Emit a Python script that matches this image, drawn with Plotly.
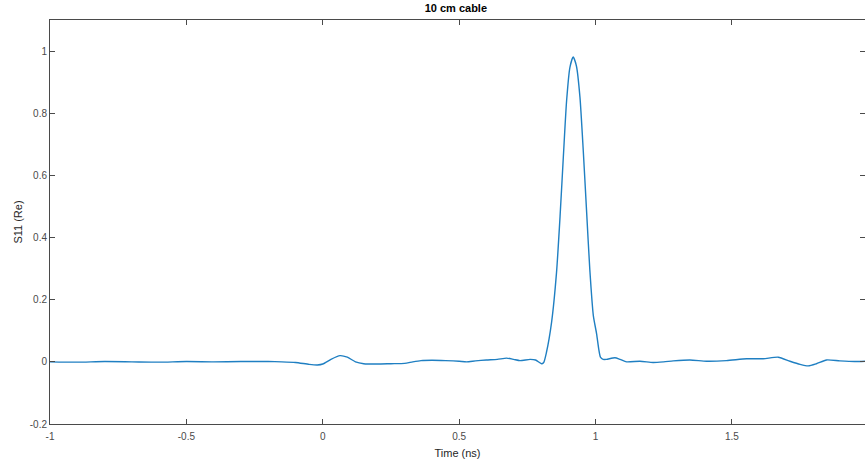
import plotly.graph_objects as go

time_ns = [-1.0, -0.9, -0.8, -0.7, -0.6, -0.5, -0.4, -0.3, -0.2, -0.15,
           -0.1, -0.05, -0.02, 0.0, 0.03, 0.063, 0.09, 0.12, 0.15, 0.2,
           0.25, 0.3, 0.33, 0.36, 0.4, 0.45, 0.5, 0.527, 0.56, 0.6,
           0.64, 0.674, 0.7, 0.723, 0.76, 0.78, 0.802, 0.81, 0.82, 0.839,
           0.857, 0.87, 0.882, 0.894, 0.906, 0.918, 0.93, 0.943, 0.955, 0.967,
           0.979, 0.992, 1.004, 1.012, 1.018, 1.028, 1.04, 1.071, 1.09, 1.114,
           1.163, 1.211, 1.25, 1.285, 1.346, 1.407, 1.48, 1.554, 1.615, 1.67,
           1.713, 1.75, 1.78, 1.81, 1.847, 1.896, 1.95, 1.988]
s11_re = [0.0, -0.001, 0.001, 0.0, -0.001, 0.001, 0.0, 0.001, 0.001, 0.0,
          -0.002, -0.008, -0.01, -0.007, 0.008, 0.02, 0.015, 0.0, -0.006, -0.007,
          -0.006, -0.005, 0.0, 0.004, 0.005, 0.004, 0.002, 0.0, 0.003, 0.006,
          0.008, 0.012, 0.008, 0.004, 0.008, 0.006, -0.006, -0.002, 0.03, 0.128,
          0.287, 0.468, 0.659, 0.84, 0.947, 0.981, 0.952, 0.851, 0.681, 0.489,
          0.298, 0.149, 0.09, 0.04, 0.015, 0.008, 0.008, 0.013, 0.008, 0.0,
          0.002, -0.002, 0.0, 0.003, 0.006, 0.002, 0.004, 0.01, 0.01, 0.015,
          0.002, -0.008, -0.013, -0.006, 0.006, 0.003, 0.001, 0.002]

x_tick_vals = [-1, -0.5, 0, 0.5, 1, 1.5]
x_tick_text = ["-1", "-0.5", "0", "0.5", "1", "1.5"]
y_tick_vals = [-0.2, 0, 0.2, 0.4, 0.6, 0.8, 1]
y_tick_text = ["-0.2", "0", "0.2", "0.4", "0.6", "0.8", "1"]

fig = go.Figure()
fig.add_trace(go.Scatter(x=time_ns, y=s11_re, mode="lines",
                         line=dict(color="#1f7fc2", width=1.4, shape="spline", smoothing=0.6),
                         showlegend=False))

axis_common = dict(showline=True, linecolor="#4a4a4a", linewidth=1, mirror="ticks",
                   ticks="inside", ticklen=5, tickcolor="#4a4a4a", tickwidth=1,
                   showgrid=False, zeroline=False, automargin=False,
                   tickfont=dict(family="Liberation Sans, Arial", size=10, color="#4a4a4a"))

fig.update_layout(
    width=865, height=461,
    margin=dict(l=50, r=0, t=20, b=37),
    paper_bgcolor="white", plot_bgcolor="white",
    title=dict(text="<b>10 cm cable</b>", x=0.527, xanchor="center", y=0.983, yanchor="middle",
               font=dict(family="Liberation Sans, Arial", size=11, color="black")),
    xaxis=dict(range=[-1, 1.988], tickvals=x_tick_vals, ticktext=x_tick_text,
               ticklabelstandoff=3,
               title=dict(text="Time (ns)", standoff=8,
                          font=dict(family="Liberation Sans, Arial", size=11, color="#262626")),
               **axis_common),
    yaxis=dict(range=[-0.2, 1.1], tickvals=y_tick_vals, ticktext=y_tick_text,
               title=dict(text="S11 (Re)", standoff=4,
                          font=dict(family="Liberation Sans, Arial", size=11, color="#262626")),
               **axis_common),
)

post = ("document.body.style.margin='0';document.body.style.overflow='hidden';"
        "var gd=document.getElementById('{plot_id}');"
        "Plotly.relayout(gd,{width:865,height:461});")
fig.write_html("out.html", post_script=post, config={"displayModeBar": False})
